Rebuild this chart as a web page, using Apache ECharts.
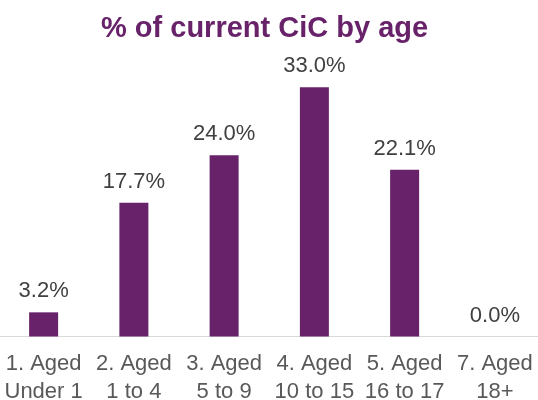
<!DOCTYPE html>
<html>
<head>
<meta charset="utf-8">
<script src="https://cdn.jsdelivr.net/npm/echarts@6/dist/echarts.min.js"></script>
<style>
  html, body { margin: 0; padding: 0; background: #ffffff; }
  #chart { width: 538px; height: 400px; }
</style>
</head>
<body>
<div id="chart"></div>
<script>
// Share of current children in care, by age band
const categories = [
  '1. Aged\nUnder 1',
  '2. Aged\n1 to 4',
  '3. Aged\n5 to 9',
  '4. Aged\n10 to 15',
  '5. Aged\n16 to 17',
  '7. Aged\n18+'
];
const shares = [3.2, 17.7, 24.0, 33.0, 22.1, 0.0];
const titleText = '% of current CiC by age';

const FONT = 'Liberation Sans, Arial, sans-serif';

const chart = echarts.init(document.getElementById('chart'), null, { renderer: 'canvas' });
chart.setOption({
  animation: false,
  backgroundColor: '#ffffff',
  title: {
    text: titleText,
    left: 96,
    top: 9,
    textStyle: {
      fontFamily: FONT,
      fontSize: 29,
      fontWeight: 'bold',
      color: '#68226A'
    }
  },
  grid: {
    left: -1.5,
    right: -2,
    top: 34.5,
    bottom: 63.5,
    containLabel: false,
    outerBoundsMode: 'none'
  },
  xAxis: {
    type: 'category',
    data: categories,
    axisLine: { show: true, lineStyle: { color: '#d9d9d9', width: 1 } },
    axisTick: { show: false },
    axisLabel: {
      interval: 0,
      margin: 13,
      fontFamily: FONT,
      fontSize: 22,
      lineHeight: 28,
      color: '#595959'
    }
  },
  yAxis: {
    type: 'value',
    min: 0,
    max: 40,
    show: false,
    splitLine: { show: false }
  },
  series: [{
    type: 'bar',
    data: shares,
    barWidth: 29,
    itemStyle: { color: '#68226A' },
    label: {
      show: true,
      position: 'top',
      distance: 10,
      formatter: p => p.value.toFixed(1) + '%',
      fontFamily: FONT,
      fontSize: 22,
      color: '#404040'
    }
  }]
});
</script>
</body>
</html>
